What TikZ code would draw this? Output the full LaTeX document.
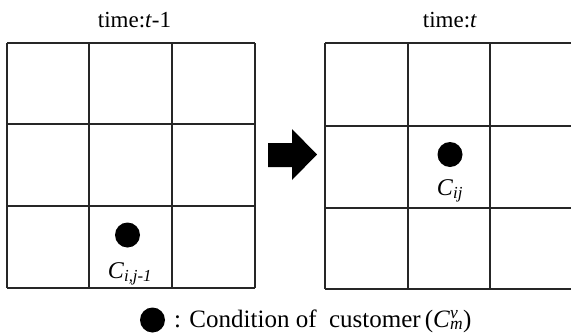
\documentclass[tikz,border=0pt]{standalone}
\usepackage{fontspec}
\setmainfont{Liberation Serif}
\begin{document}
\begin{tikzpicture}[x=1pt,y=-1pt,
  gridline/.style={line width=1.4pt,draw=black!85},
  dot/.style={circle,fill=black,inner sep=0pt,minimum size=25pt},
  title/.style={font=\fontsize{23}{27}\selectfont,anchor=base,inner sep=0pt},
  lab/.style={font=\fontsize{24}{28}\selectfont,anchor=base,inner sep=0pt},
  caption/.style={font=\fontsize{25}{29}\selectfont,anchor=base west,inner sep=0pt}]
\useasboundingbox (0,0) rectangle (571,335);
\clip (0,0) rectangle (571,335);

% grid at time t-1
\foreach \x in {7,89,172,255} \draw[gridline] (\x,43) -- (\x,288);
\foreach \y in {43,124,206,288} \draw[gridline] (7,\y) -- (255,\y);

% grid at time t (runs past the right edge)
\foreach \x in {325,408,490,573} \draw[gridline] (\x,43) -- (\x,289);
\foreach \y in {43,126,208,289} \draw[gridline] (325,\y) -- (573,\y);

% titles
\node[title] (tprev) at (134.5,27) {time:\textit{t}-1};
\node[title] (tcur) at (450,27) {time:\textit{t}};

% customer positions
\node[dot] (dprev) at (127.5,235) {};
\node[lab] (cprev) at (130,278) {\textit{C}\textsubscript{\textit{i,j-1}}};
\node[dot] (dcur) at (450,154.5) {};
\node[lab] (ccur) at (450,195) {\textit{C}\textsubscript{\textit{ij}}};

% transition arrow
\fill[black] (268,143) -- (292,143) -- (292,129) -- (317,154.5) -- (292,180)
  -- (292,167) -- (268,167) -- cycle;

% legend
\node[dot] (dleg) at (152.5,320) {};
\node[caption] (leg) at (174,327) {: Condition of\ \ customer\,(\textit{C}\rlap{\raisebox{-1pt}{\textsuperscript{\textit{v}}}}\raisebox{1pt}{\textsubscript{\textit{m}}})};
\end{tikzpicture}
\end{document}
